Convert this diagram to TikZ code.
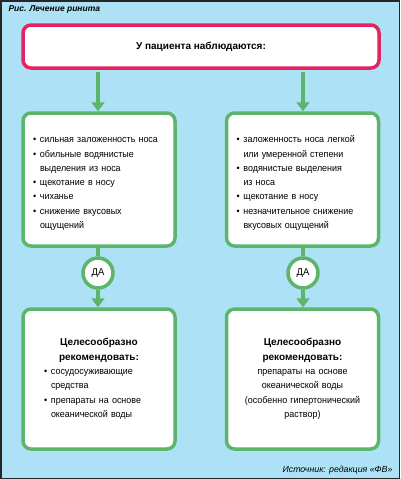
\documentclass[tikz,border=0pt]{standalone}
\usepackage{fontspec}
\setmainfont{Liberation Sans}[UprightFeatures={FakeStretch=0.94}]
\usetikzlibrary{arrows.meta,positioning}

\definecolor{bgblue}{HTML}{ADE1F6}
\definecolor{boxgreen}{HTML}{5DB46B}
\definecolor{boxred}{HTML}{E42460}

% bullet item with hanging indent
\newcommand{\bul}[1]{\par\noindent\hangindent=7pt\hangafter=1\makebox[7pt][l]{\textbullet}#1}

\begin{document}
\begin{tikzpicture}[x=1pt, y=-1pt,
                    every node/.style={font=\fontsize{9.5}{14.3}\selectfont},
                    symptoms/.style={draw=boxgreen, line width=3.5pt, fill=white,
                                     rounded corners=8pt, inner sep=0pt,
                                     minimum width=152pt, minimum height=133pt,
                                     align=left},
                    advice/.style={symptoms, minimum height=140pt},
                    answer/.style={circle, draw=boxgreen, line width=3.5pt, fill=white,
                                   minimum size=30pt, inner sep=0pt,
                                   font=\fontsize{10}{10}\selectfont},
                    flow/.style={boxgreen, line width=3.5pt}]
    \useasboundingbox (0,0) rectangle (400,479);
    \fill[bgblue] (0,0) rectangle (400,479);
    \draw[line width=1.5pt, black!85] (0.75,0.75) rectangle (399.25,478.25);

    \node[anchor=west, font=\fontsize{8.5}{10}\selectfont\bfseries\itshape] (title) at (5,9) {Рис. Лечение ринита};

    \node[draw=boxred, line width=3.5pt, fill=white, rounded corners=8pt,
          minimum width=356pt, minimum height=43pt, font=\fontsize{10}{12}\selectfont\bfseries]
          (patient) at (201,46.5) {У пациента наблюдаются:};

    \node[symptoms, text width=132pt] (sympL) at (99,179.5) {%
        \bul{\mbox{сильная заложенность носа}}
        \bul{обильные водянистые\newline выделения из носа}
        \bul{щекотание в носу}
        \bul{чиханье}
        \bul{снижение вкусовых\newline ощущений}\par};
    \node[symptoms, text width=132pt] (sympR) at (302.5,179.5) {%
        \bul{заложенность носа легкой\newline или умеренной степени}
        \bul{водянистые выделения\newline из носа}
        \bul{щекотание в носу}
        \bul{незначительное снижение\newline вкусовых ощущений}\par};

    \node[answer] (daL) at (98,273) {ДА};
    \node[answer] (daR) at (303,273) {ДА};

    \node[advice, text width=110pt] (recL) at (99,379) {%
        {\centering\fontsize{10}{14.3}\selectfont\bfseries Целесообразно\par рекомендовать:\par}
        \bul{сосудосуживающие\newline средства}
        \bul{препараты на основе\newline океанической воды}\par};
    \node[advice, text width=140pt, align=center] (recR) at (302.5,379) {%
        {\fontsize{10}{14.3}\selectfont\bfseries Целесообразно}\\
        {\fontsize{10}{14.3}\selectfont\bfseries рекомендовать:}\\препараты на основе\\
        океанической воды\\(особенно гипертонический\\раствор)};

    \node[anchor=east, font=\fontsize{8.8}{10}\selectfont\itshape] (source) at (396,470) {Источник: редакция «ФВ»};

    % Define transitions
    \path[flow, -{Triangle[width=13pt,length=9pt]}]
     (daL |- patient.south) edge [shorten <=1.75pt] (daL |- sympL.north)
     (daR |- patient.south) edge [shorten <=1.75pt] (daR |- sympR.north)
     (daL)                  edge                    (daL |- recL.north)
     (daR)                  edge                    (daR |- recR.north);
    \draw[flow] (daL |- sympL.south) -- (daL);
    \draw[flow] (daR |- sympR.south) -- (daR);
\end{tikzpicture}
\end{document}
